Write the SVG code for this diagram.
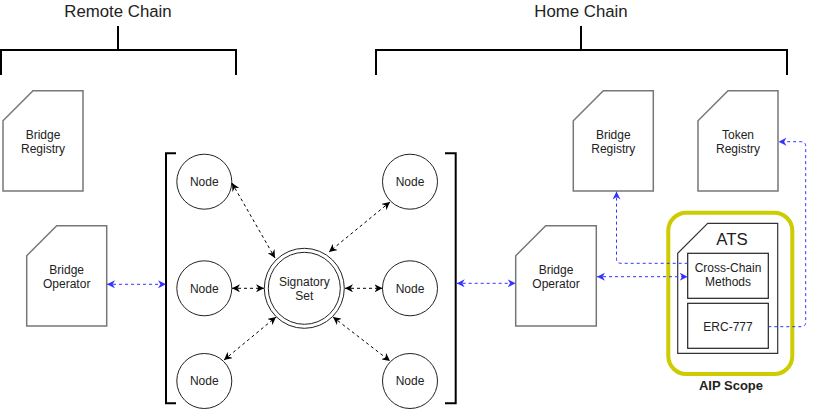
<svg xmlns="http://www.w3.org/2000/svg" width="815" height="409" viewBox="0 0 815 409">
<defs>
<style>
.t{font-family:"Liberation Sans",Arial,sans-serif;fill:#222;text-anchor:middle}
.s12{font-size:12px}
.s16{font-size:16.8px}
.card{fill:#fff;stroke:#777;stroke-width:1.5}
.node{fill:#fff;stroke:#222;stroke-width:1}
.br{fill:none;stroke:#000;stroke-width:2}
.bk{fill:none;stroke:#000;stroke-width:1;stroke-dasharray:3 3}
.bl{fill:none;stroke:#3333FF;stroke-width:1;stroke-dasharray:3 3}
.box{fill:#fff;stroke:#222;stroke-width:1.2}
</style>
<marker id="ak" viewBox="0 0 10 10" refX="10" refY="5" markerWidth="8" markerHeight="8" markerUnits="userSpaceOnUse" orient="auto-start-reverse"><path d="M0,0 L10,5 L0,10 L3,5 z" fill="#000"/></marker>
<marker id="ab" viewBox="0 0 10 10" refX="10" refY="5" markerWidth="8" markerHeight="8" markerUnits="userSpaceOnUse" orient="auto-start-reverse"><path d="M0,0 L10,5 L0,10 L3,5 z" fill="#3333FF"/></marker>
</defs>
<rect width="815" height="409" fill="#fff"/>

<g id="remote-chain">
<path class="br" d="M118,26 V50 M1,75 V50 H236 V75"/>
<text class="t s16" x="118" y="17">Remote Chain</text>
</g>
<g id="home-chain">
<path class="br" d="M581,26 V50 M376,75 V50 H787 V75"/>
<text class="t s16" x="581" y="17">Home Chain</text>
</g>

<g id="remote-bridge-registry">
<path class="card" d="M33,90.7 H83 V191 H3 V120.7 Z"/>
<text class="t s12" x="43" y="139">Bridge</text>
<text class="t s12" x="43" y="153">Registry</text>
</g>
<g id="remote-bridge-operator">
<path class="card" d="M56.7,225.7 H106.7 V326 H26.7 V255.7 Z"/>
<text class="t s12" x="66.7" y="274">Bridge</text>
<text class="t s12" x="66.7" y="288">Operator</text>
</g>

<g id="left-bracket"><path class="br" d="M176,153.3 H166 V403.3 H176"/></g>
<g id="right-bracket"><path class="br" d="M445,153.3 H455.7 V403.3 H445"/></g>

<g id="node-tl"><circle class="node" cx="204.3" cy="181.7" r="27.5"/><text class="t s12" x="204.3" y="186">Node</text></g>
<g id="node-ml"><circle class="node" cx="204.3" cy="288.3" r="27.5"/><text class="t s12" x="204.3" y="292.6">Node</text></g>
<g id="node-bl"><circle class="node" cx="204.3" cy="381" r="27.5"/><text class="t s12" x="204.3" y="385.3">Node</text></g>
<g id="node-tr"><circle class="node" cx="410" cy="181.7" r="27.5"/><text class="t s12" x="410" y="186">Node</text></g>
<g id="node-mr"><circle class="node" cx="410" cy="288.3" r="27.5"/><text class="t s12" x="410" y="292.6">Node</text></g>
<g id="node-br"><circle class="node" cx="410" cy="381" r="27.5"/><text class="t s12" x="410" y="385.3">Node</text></g>

<g id="signatory-set">
<circle class="node" cx="304.3" cy="288.3" r="40"/>
<circle class="node" cx="304.3" cy="288.3" r="36"/>
<text class="t s12" x="304.3" y="286">Signatory</text>
<text class="t s12" x="304.3" y="300">Set</text>
</g>

<g id="home-bridge-operator">
<path class="card" d="M545.7,225.7 H596.3 V326 H515.7 V255.7 Z"/>
<text class="t s12" x="556" y="274">Bridge</text>
<text class="t s12" x="556" y="288">Operator</text>
</g>
<g id="home-bridge-registry">
<path class="card" d="M603.3,90.7 H653.3 V191 H573.3 V120.7 Z"/>
<text class="t s12" x="613.3" y="139">Bridge</text>
<text class="t s12" x="613.3" y="153">Registry</text>
</g>
<g id="token-registry">
<path class="card" d="M728,90.7 H778 V191 H698 V120.7 Z"/>
<text class="t s12" x="738" y="139">Token</text>
<text class="t s12" x="738" y="153">Registry</text>
</g>

<g id="ats">
<path class="card" style="stroke:#333;stroke-width:1.2" d="M707.7,223.3 H777.7 V353.3 H677.7 V253.3 Z"/>
<text class="t s16" x="732" y="245">ATS</text>
</g>
<g id="cross-chain-methods">
<rect class="box" x="687.7" y="253.3" width="80.6" height="45"/>
<text class="t s12" x="728" y="272">Cross-Chain</text>
<text class="t s12" x="728" y="286">Methods</text>
</g>
<g id="erc-777">
<rect class="box" x="687.7" y="303.3" width="80.6" height="45"/>
<text class="t s12" x="728" y="330.5">ERC-777</text>
</g>
<g id="aip-scope">
<rect x="668.3" y="212.7" width="124" height="161.3" rx="18" ry="18" fill="none" stroke="#CCCC00" stroke-width="4"/>
<text class="t" x="731" y="390" style="font-weight:bold;font-size:13px">AIP Scope</text>
</g>

<g id="connectors">
<line class="bk" x1="232" y1="183" x2="275" y2="258" marker-start="url(#ak)" marker-end="url(#ak)"/>
<line class="bk" x1="232" y1="288.3" x2="264" y2="288.3" marker-start="url(#ak)" marker-end="url(#ak)"/>
<line class="bk" x1="224" y1="360" x2="276" y2="317" marker-start="url(#ak)" marker-end="url(#ak)"/>
<line class="bk" x1="390" y1="202" x2="329" y2="252" marker-start="url(#ak)" marker-end="url(#ak)"/>
<line class="bk" x1="345" y1="288.3" x2="382.5" y2="288.3" marker-start="url(#ak)" marker-end="url(#ak)"/>
<line class="bk" x1="333" y1="317" x2="390" y2="361" marker-start="url(#ak)" marker-end="url(#ak)"/>
<line class="bl" x1="107" y1="284.3" x2="166" y2="284.3" marker-start="url(#ab)" marker-end="url(#ab)"/>
<line class="bl" x1="456.7" y1="283.3" x2="515.7" y2="283.3" marker-start="url(#ab)" marker-end="url(#ab)"/>
<line class="bl" x1="597" y1="276.7" x2="687.7" y2="276.7" marker-start="url(#ab)" marker-end="url(#ab)"/>
<path class="bl" d="M687.7,263.3 H621 Q616.5,263.3 616.5,258.8 V191.5" marker-end="url(#ab)"/>
<path class="bl" d="M768.3,326.7 H801 Q805.7,326.7 805.7,322 V146.4 Q805.7,141.7 801,141.7 H778.5" marker-end="url(#ab)"/>
</g>
</svg>
